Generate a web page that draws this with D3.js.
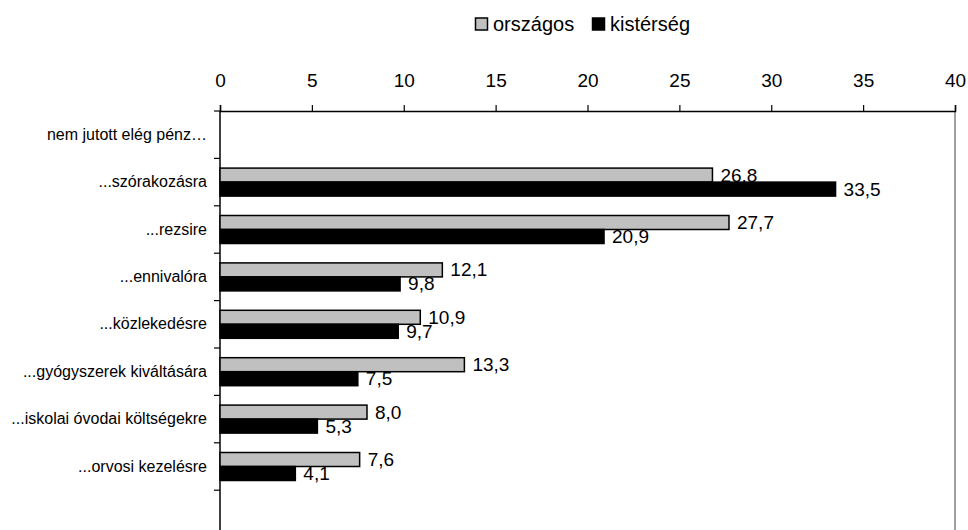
<!DOCTYPE html>
<html>
<head>
<meta charset="utf-8">
<script src="https://cdn.jsdelivr.net/npm/d3@7"></script>
<style>
  body { margin: 0; background: #fff; }
  svg text { font-family: "Liberation Sans", Arial, sans-serif; fill: #000; }
</style>
</head>
<body>
<div id="chart"></div>
<script>
var categories = ["nem jutott elég pénz…", "...szórakozásra", "...rezsire", "...ennivalóra",
  "...közlekedésre", "...gyógyszerek kiváltására", "...iskolai óvodai költségekre", "...orvosi kezelésre"];
var seriesNames = ["országos", "kistérség"];
var orszagos = [null, 26.8, 27.7, 12.1, 10.9, 13.3, 8.0, 7.6];
var kisterseg = [null, 33.5, 20.9, 9.8, 9.7, 7.5, 5.3, 4.1];
var xTicks = [0, 5, 10, 15, 20, 25, 30, 35, 40];
var colors = ["#c0c0c0", "#000000"];

var width = 968, height = 530;
var plotLeft = 220, plotRight = 955, plotTop = 111, rowH = 47.4;

var svg = d3.select("#chart").append("svg")
  .attr("width", width)
  .attr("height", height);

var x = d3.scaleLinear().domain([0, 40]).range([plotLeft, plotRight]);
var y = d3.scaleBand().domain(categories).range([plotTop, plotTop + rowH * categories.length]);
var barH = 14;
var sub = d3.scaleBand().domain(seriesNames)
  .range([y.bandwidth() / 2 - barH, y.bandwidth() / 2 + barH]);

var fmt = function(v) { return d3.format(".1f")(v).replace(".", ","); };

// right border of plot area
svg.append("line")
  .attr("x1", plotRight).attr("x2", plotRight)
  .attr("y1", plotTop).attr("y2", height)
  .attr("stroke", "#808080").attr("stroke-width", 1.5);

// top axis
var xAxis = svg.append("g")
  .attr("transform", "translate(0," + plotTop + ")")
  .call(d3.axisTop(x).tickValues(xTicks).tickSize(6).tickPadding(18).tickFormat(d3.format("d")));
xAxis.select(".domain").attr("stroke", "#000").attr("stroke-width", 1.5);
xAxis.selectAll(".tick line").attr("stroke", "#000").attr("stroke-width", 1.2);
xAxis.selectAll("text").style("font-size", "19px");

// left axis line and ticks at band boundaries
svg.append("line")
  .attr("x1", plotLeft).attr("x2", plotLeft)
  .attr("y1", plotTop).attr("y2", height)
  .attr("stroke", "#000").attr("stroke-width", 1.5);
var bounds = d3.range(categories.length + 1);
svg.selectAll("line.ytick").data(bounds).enter().append("line")
  .attr("class", "ytick")
  .attr("x1", plotLeft - 6).attr("x2", plotLeft)
  .attr("y1", function(d) { return plotTop + d * rowH; })
  .attr("y2", function(d) { return plotTop + d * rowH; })
  .attr("stroke", "#000").attr("stroke-width", 1.2);

svg.selectAll("text.cat").data(categories).enter().append("text")
  .attr("class", "cat")
  .attr("x", plotLeft - 13)
  .attr("y", function(d) { return y(d) + y.bandwidth() / 2 + 5; })
  .attr("text-anchor", "end")
  .style("font-size", "16px")
  .text(function(d) { return d; });

// bars and labels
var series = [orszagos, kisterseg];
series.forEach(function(vals, s) {
  var rows = categories.map(function(c, i) { return { cat: c, v: vals[i] }; })
    .filter(function(d) { return d.v != null; });
  var g = svg.append("g");
  g.selectAll("rect").data(rows).enter().append("rect")
    .attr("x", x(0))
    .attr("y", function(d) { return y(d.cat) + sub(seriesNames[s]); })
    .attr("width", function(d) { return x(d.v) - x(0); })
    .attr("height", barH)
    .attr("fill", colors[s])
    .attr("stroke", "#000")
    .attr("stroke-width", 1.5);
  g.selectAll("text").data(rows).enter().append("text")
    .attr("x", function(d) { return x(d.v) + 8; })
    .attr("y", function(d) { return y(d.cat) + sub(seriesNames[s]) + barH / 2 + 6.5; })
    .style("font-size", "19px")
    .text(function(d) { return fmt(d.v); });
});

// legend
var legend = svg.append("g").attr("transform", "translate(475,17)");
var lx = [0, 117];
seriesNames.forEach(function(n, i) {
  legend.append("rect")
    .attr("x", lx[i] + 0.5).attr("y", 1)
    .attr("width", 12).attr("height", 12)
    .attr("fill", colors[i]).attr("stroke", "#000").attr("stroke-width", 1.5);
  legend.append("text")
    .attr("x", lx[i] + 18).attr("y", 14)
    .style("font-size", "20px")
    .text(n);
});
</script>
</body>
</html>
